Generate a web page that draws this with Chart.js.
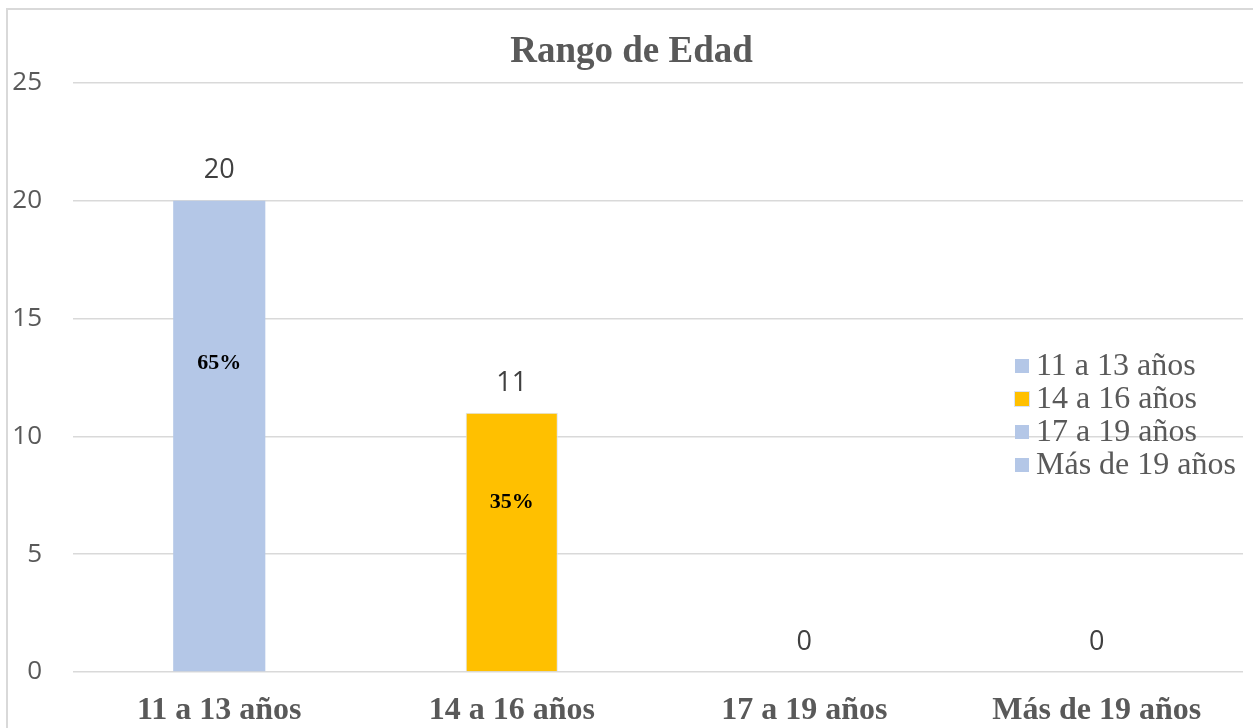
<!DOCTYPE html>
<html>
<head>
<meta charset="utf-8">
<script src="https://cdn.jsdelivr.net/npm/chart.js@4/dist/chart.umd.min.js"></script>
<style>
html,body{margin:0;padding:0;background:#fff;}
#wrap{position:absolute;left:0;top:0;width:1253px;height:728px;}
</style>
</head>
<body>
<div id="wrap"><canvas id="c" width="1253" height="728"></canvas></div>
<script>
const categories = ['11 a 13 años', '14 a 16 años', '17 a 19 años', 'Más de 19 años'];
const values = [20, 11, 0, 0];
const percentLabels = ['65%', '35%', '', ''];
const barColors = ['#B4C7E7', '#FFC000', '#B4C7E7', '#B4C7E7'];
const barBorders = ['#B4C7E7', '#DAE3F3', '#B4C7E7', '#B4C7E7'];
const yTicks = [0, 5, 10, 15, 20, 25];
const chartTitle = 'Rango de Edad';

const SERIF = '"Liberation Serif", "Times New Roman", serif';
const SANS = '"Open Sans", "Liberation Sans", sans-serif';

const frame = {
  id: 'frame',
  beforeDraw(chart) {
    const ctx = chart.ctx;
    ctx.save();
    ctx.fillStyle = '#fff';
    ctx.fillRect(0, 0, chart.width, chart.height);
    ctx.strokeStyle = '#d9d9d9';
    ctx.lineWidth = 2;
    ctx.strokeRect(7, 9, chart.width + 20, chart.height + 20);
    ctx.restore();
  }
};

const titlePlugin = {
  id: 'titleText',
  afterDraw(chart) {
    const ctx = chart.ctx;
    ctx.save();
    ctx.font = 'bold 37px ' + SERIF;
    ctx.fillStyle = '#595959';
    ctx.textAlign = 'center';
    ctx.textBaseline = 'middle';
    ctx.fillText(chartTitle, chart.width / 2 + 5, chart.chartArea.top - 31);
    ctx.restore();
  }
};

const labelsPlugin = {
  id: 'labelsPlugin',
  afterDatasetsDraw(chart) {
    const ctx = chart.ctx;
    const meta = chart.getDatasetMeta(0);
    const yScale = chart.scales.y;
    ctx.save();
    meta.data.forEach((bar, i) => {
      ctx.font = '27px ' + SANS;
      ctx.fillStyle = '#404040';
      ctx.textAlign = 'center';
      ctx.textBaseline = 'middle';
      ctx.fillText(String(values[i]), bar.x, bar.y - 30);
      if (percentLabels[i]) {
        ctx.font = 'bold 22px ' + SERIF;
        ctx.fillStyle = '#000';
        const py = yScale.getPixelForValue(values[i] * 0.655);
        ctx.fillText(percentLabels[i], bar.x, py);
      }
    });
    ctx.restore();
  }
};

const legendPlugin = {
  id: 'customLegend',
  afterDraw(chart) {
    const ctx = chart.ctx;
    const a = chart.chartArea;
    const x0 = a.right - 228;
    const y0 = a.top + 283;
    const step = 33;
    ctx.save();
    ctx.font = '32px ' + SERIF;
    ctx.textAlign = 'left';
    ctx.textBaseline = 'middle';
    categories.forEach((c, i) => {
      const y = y0 + i * step;
      ctx.fillStyle = barColors[i];
      ctx.fillRect(x0, y - 7, 14, 14);
      if (i === 1) {
        ctx.strokeStyle = '#DAE3F3';
        ctx.lineWidth = 1;
        ctx.strokeRect(x0 - 0.5, y - 7.5, 15, 15);
      }
      ctx.fillStyle = '#595959';
      ctx.fillText(c, x0 + 21, y + 1);
    });
    ctx.restore();
  }
};

new Chart(document.getElementById('c'), {
  type: 'bar',
  data: {
    labels: categories,
    datasets: [{
      label: chartTitle,
      data: values,
      backgroundColor: barColors,
      borderColor: barBorders,
      borderWidth: [0, 1, 0, 0],
      categoryPercentage: 1,
      barPercentage: 0.315
    }]
  },
  options: {
    responsive: false,
    animation: false,
    devicePixelRatio: 1,
    layout: { padding: { left: 0, right: 10, top: 83, bottom: 0 } },
    plugins: {
      legend: { display: false },
      tooltip: { enabled: false },
      title: { display: false }
    },
    scales: {
      x: {
        afterFit(scale) { scale.height = 56; },
        grid: { display: false, drawTicks: false },
        border: { display: false },
        ticks: {
          color: '#595959',
          font: { family: SERIF, size: 32, weight: 'bold' },
          padding: 20,
          maxRotation: 0,
          autoSkip: false
        }
      },
      y: {
        min: 0,
        max: 25,
        afterBuildTicks(scale) { scale.ticks = yTicks.map(v => ({ value: v })); },
        afterFit(scale) { scale.width = 73; },
        grid: { color: '#d9d9d9', lineWidth: 1.5, drawTicks: false },
        border: { display: false },
        ticks: {
          color: '#595959',
          font: { family: SANS, size: 26 },
          padding: 31
        }
      }
    }
  },
  plugins: [frame, labelsPlugin, legendPlugin, titlePlugin]
});
</script>
</body>
</html>
